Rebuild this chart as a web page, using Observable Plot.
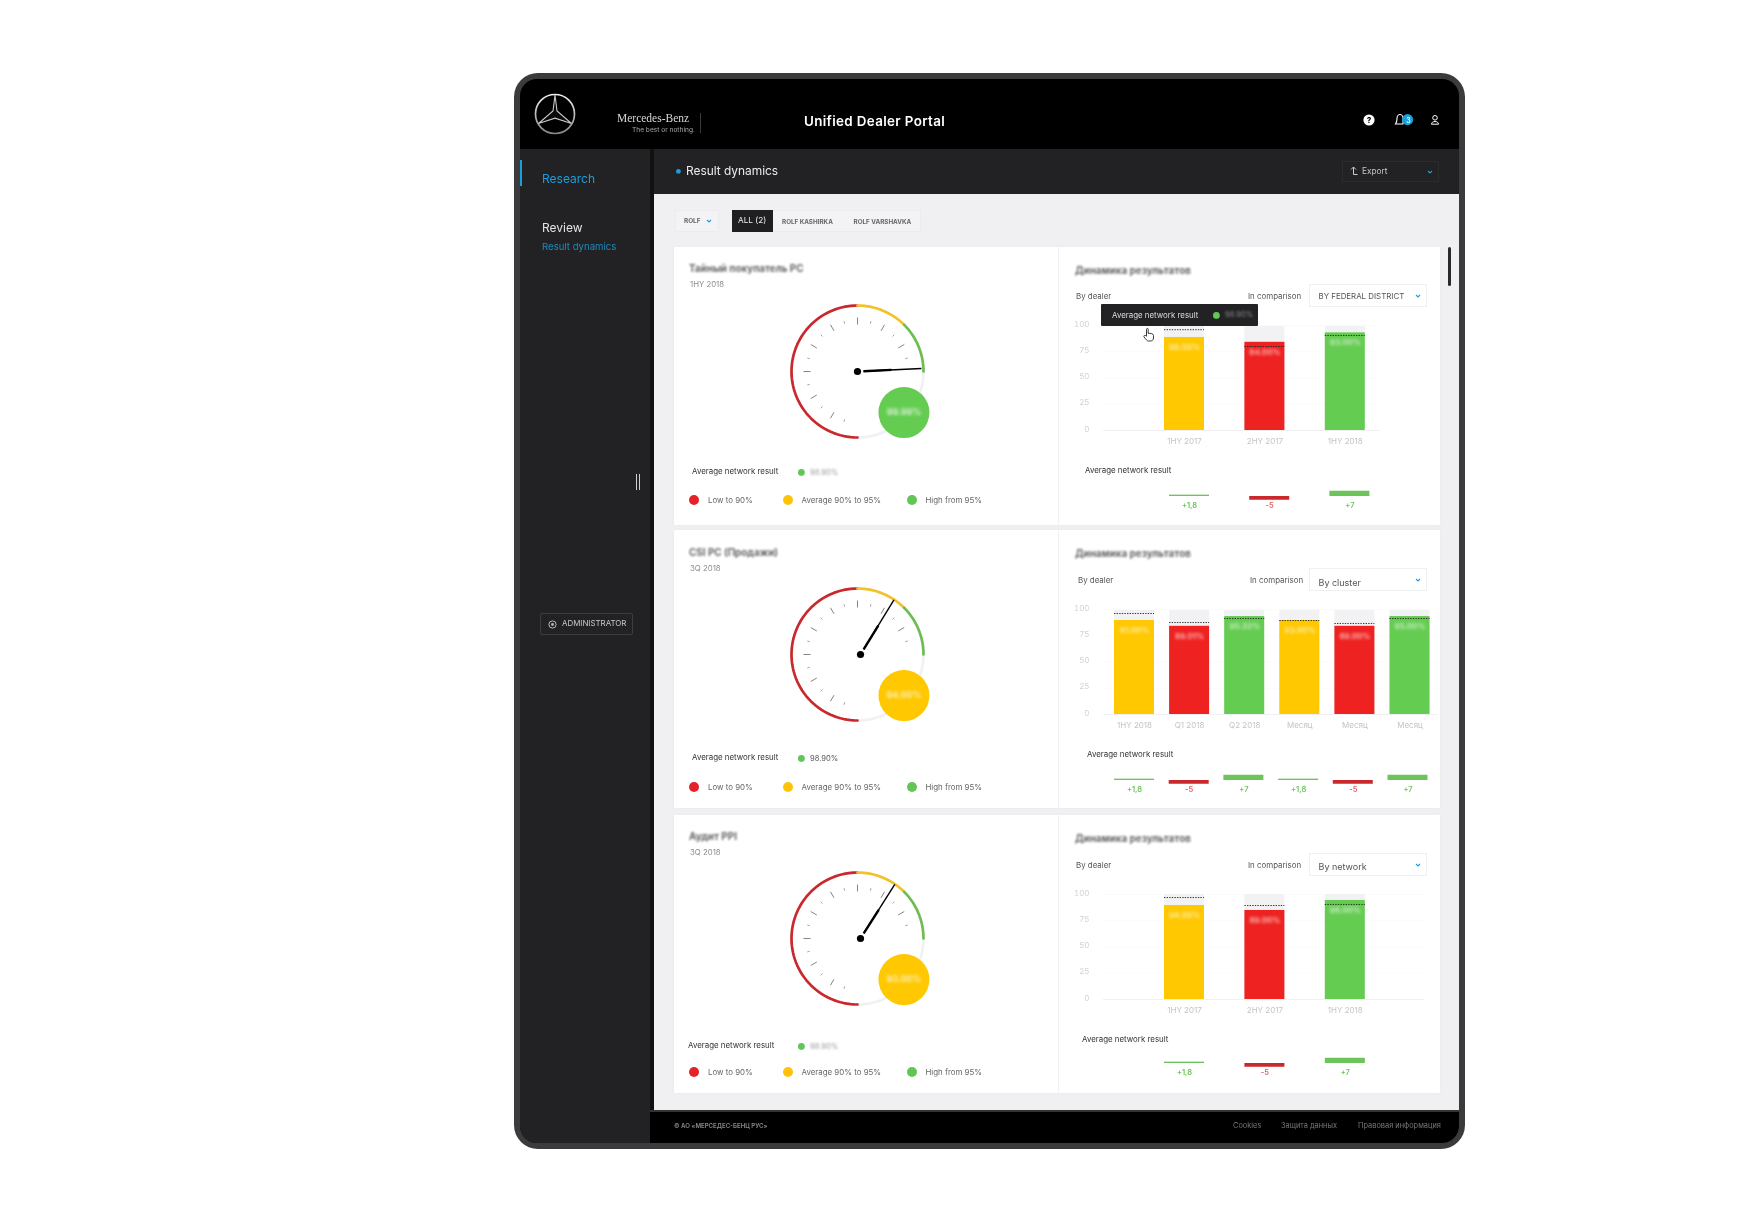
<!DOCTYPE html>
<html><head><meta charset="utf-8">
<script src="https://cdn.jsdelivr.net/npm/d3@7"></script>
<script src="https://cdn.jsdelivr.net/npm/@observablehq/plot@0.6"></script>
<style>
html,body{margin:0;padding:0;background:#fff;font-family:Inter,"Noto Sans",sans-serif}
#root{position:absolute;left:0;top:0;width:1760px;height:1216px;overflow:hidden;background:#fff;filter:blur(.4px)}
.b{position:absolute;box-sizing:border-box}
.t{position:absolute;white-space:nowrap;line-height:1;transform:translateY(-50%)}
svg.i{position:absolute;overflow:visible}
.p{position:absolute}
.p svg{overflow:visible;background:transparent}
</style></head><body><div id="root"></div>
<script>
// ---------- data ----------
const gaugeTitles = ["Тайный покупатель РС", "CSI PC (Продажи)", "Аудит PPI"];
const gaugePeriods = ["1HY 2018", "3Q 2018", "3Q 2018"];
const gaugeValues = [99.7, 93.5, 93.6];
const gaugeLabels = ["99.99%", "94.00%", "93.00%"];
const gaugeStatus = ["high", "mid", "mid"];
const networkLabels = ["98.90%", "98.90%", "98.90%"];
const zoneNames = ["low", "mid", "high"];
const zoneStops = [0, 90, 95, 100];
const dialDegrees = [-180, 0, 45, 90];
const dialTickAngles = [-165,-150,-135,-120,-105,-90,-75,-60,-45,-30,-15,0,15,30,45,60,75];
const legendLabels = ["Low to 90%", "Average 90% to 95%", "High from 95%"];

const periods1 = ["1HY 2017", "2HY 2017", "1HY 2018"];
const status1 = ["mid", "low", "high"];
const results1 = [88.6, 84, 93];
const network1 = [96, 80, 90.5];
const ceiling1 = [99, 99, 99];
const resultLabels1 = ["88.00%", "84.00%", "93.00%"];
const deltas1 = [1.8, -5, 7];
const deltaLabels1 = ["+1,8", "-5", "+7"];

const periods2 = ["1HY 2018", "Q1 2018", "Q2 2018", "Месяц", "Месяц", "Месяц"];
const status2 = ["mid", "low", "high", "mid", "low", "high"];
const results2 = [89.5, 84, 93.3, 89.5, 84, 93.3];
const network2 = [96.2, 87.6, 91.4, 89.5, 86.7, 91.4];
const ceiling2 = [99, 99, 99, 99, 99, 99];
const resultLabels2 = ["91.00%", "89.01%", "95.33%", "93.00%", "89.00%", "95.00%"];
const deltas2 = [1.8, -5, 7, 1.8, -5, 7];
const deltaLabels2 = ["+1,8", "-5", "+7", "+1,8", "-5", "+7"];

const periods3 = ["1HY 2017", "2HY 2017", "1HY 2018"];
const status3 = ["mid", "low", "high"];
const results3 = [89.5, 84.8, 94.3];
const network3 = [97.1, 89.5, 90.5];
const ceiling3 = [100, 100, 100];
const resultLabels3 = ["94.00%", "89.00%", "96.00%"];
const deltas3 = [1.8, -5, 7];
const deltaLabels3 = ["+1,8", "-5", "+7"];

// ---------- colours ----------
const C = {low:"#ee2220", mid:"#ffc800", high:"#65cc52", arcLow:"#c9282c", arcMid:"#f2c22c", arcHigh:"#6dbd52", rest:"#f1f1f3", legLow:"#e4222a", legMid:"#ffc30a", legHigh:"#63c556", blue:"#1a9fdc"};
const FONT = 'Inter,"Noto Sans",sans-serif';

// ---------- helpers for the page around the charts ----------
const root = document.getElementById("root");
function box(x1,y1,x2,y2,bg,extra=""){const d=document.createElement("div");d.className="b";d.style.cssText=`left:${x1}px;top:${y1}px;width:${x2-x1}px;height:${y2-y1}px;background:${bg};${extra}`;root.appendChild(d);return d;}
function txt(s,x,y,size,color,extra=""){const d=document.createElement("div");d.className="t";d.textContent=s;d.style.cssText=`left:${x}px;top:${y+0.9}px;font-size:${size}px;color:${color};${extra}`;root.appendChild(d);return d;}
function icon(x,y,w,h,inner){const n="http://www.w3.org/2000/svg";const s=document.createElementNS(n,"svg");s.setAttribute("class","i");s.setAttribute("width",w);s.setAttribute("height",h);s.setAttribute("viewBox",`${-w/2} ${-h/2} ${w} ${h}`);s.style.left=(x-w/2)+"px";s.style.top=(y-h/2)+"px";s.innerHTML=inner;root.appendChild(s);}
const chev=(x,y,c=C.blue)=>icon(x,y,8,6,`<polyline points="-2,-1 0,1 2,-1" fill="none" stroke="${c}" stroke-width="1.1"/>`);
const disc=(x,y,r,c)=>icon(x,y,2*r+2,2*r+2,`<circle r="${r}" fill="${c}"/>`);
const blur=(v)=>`filter:blur(${v}px);`;

// ---------- device frame ----------
box(514,73,1465,1149,"#3b3b3d","border-radius:24px");
box(520,79,1459,1143,"#000","border-radius:17px");
box(520,149,650,1143,"#222224","border-radius:0 0 0 17px");
box(650,149,654,1110,"#111");
box(654,149,1459,193.5,"#222224");
box(654,193.5,1459,1110,"#f0f0f2");
box(650,1110,1459,1112,"#333");

// header
icon(555,114,46,46,`<defs><linearGradient id="lg" x1="0" y1="0" x2="0" y2="1"><stop offset="0" stop-color="#eee"/><stop offset="1" stop-color="#888"/></linearGradient></defs>
<circle r="19.5" fill="none" stroke="url(#lg)" stroke-width="1.7"/>
<path d="M0,-19 L2,-3 L16.5,9.5 L0,4.2 L-16.5,9.5 L-2,-3Z" fill="#0a0a0a" stroke="#c8c8c8" stroke-width="1.1"/>`);
txt("Mercedes-Benz",617,118,11.5,"#d8d8d8",'font-family:"Liberation Serif",serif;');
txt("The best or nothing.",632,129,6.6,"#a8a8a8");
box(700,113,701,133,"#3a3a3a");
txt("Unified Dealer Portal",804,121.5,13.4,"#fff","font-weight:600;letter-spacing:.35px;");
icon(1369,120,14,14,`<circle r="5.6" fill="#fff"/>`);
txt("?",1366.8,119.5,8,"#000","font-weight:800;");
icon(1400,120,16,16,`<path d="M-4.5,4 C-3,2 -3,0 -3,-1.5 C-3,-4.5 -1,-5.5 0,-5.5 C1,-5.5 3,-4.5 3,-1.5 L3,4 Z" fill="none" stroke="#fff" stroke-width="1.1"/>`);
disc(1408,120,5.6,C.blue);
txt("3",1406.3,119.5,7,"#dff","font-weight:600;");
icon(1435,120,14,14,`<circle cy="-2.2" r="2.3" fill="none" stroke="#fff" stroke-width="1"/><path d="M-3.5,4.2 C-3.5,0.6 3.5,0.6 3.5,4.2 Z" fill="none" stroke="#fff" stroke-width="1"/>`);

// sub header
disc(678,171,2.4,C.blue);
txt("Result dynamics",686,170.5,11.9,"#ececec");
box(1342,161,1439,182,"transparent","border:1px solid #2b2b2d");
icon(1354,171,12,12,`<path d="M-3,-1.5 L-0.5,-4 L2,-1.5 M-0.5,-4 L-0.5,3.5 L3.5,3.5" fill="none" stroke="#ccc" stroke-width="1"/>`);
txt("Export",1362,170.5,8.3,"#c4c4c4");
chev(1430,172);

// sidebar
box(520,160,522,186,C.blue);
txt("Research",542,178,12,C.blue);
txt("Review",542,227,12,"#e4e4e4");
txt("Result dynamics",542,246,9.6,"#1a8bbd");
box(636,474,637.2,490,"#cfcfcf");box(639,474,640.2,490,"#cfcfcf");
box(540,613,633,635,"transparent","border:1px solid #3d3d3f;border-radius:2px");
icon(552,624,11,11,`<circle r="3.6" fill="none" stroke="#bbb" stroke-width="1"/><circle r="1.4" fill="#bbb"/>`);
txt("ADMINISTRATOR",562,623,7.9,"#c8c8c8");

// filters
box(675,210,719,232,"#f3f3f5","border:1px solid #ececee");
txt("ROLF",684,220,6.4,"#666","font-weight:700;");
chev(709,221);
box(772,210,921,232,"#f3f3f5","border:1px solid #ececee");
box(732,210,773,232,"#1f1f21");
txt("ALL (2)",738,219.5,8.2,"#eee");
txt("ROLF KASHIRKA",782,221,6.3,"#666","font-weight:700;");
txt("ROLF VARSHAVKA",853.5,221,6.3,"#666","font-weight:700;");

// scroll thumb
box(1448,247,1451,286,"#2a2a2c","border-radius:2px");

// footer
txt("© АО «МЕРСЕДЕС-БЕНЦ РУС»",674,1125.5,6.1,"#8a8a8a","font-weight:600;");
txt("Cookies",1233,1125.5,7.4,"#777");
txt("Защита данных",1281,1125.5,7.4,"#777");
txt("Правовая информация",1358,1125.5,7.4,"#777");

// ---------- charts ----------
const dial = d3.scaleLinear().domain(zoneStops).range(dialDegrees);
const polarX = (deg, r) => r * Math.sin(deg * Math.PI / 180);
const polarY = (deg, r) => r * Math.cos(deg * Math.PI / 180);

function place(el, x, y){const d=document.createElement("div");d.className="p";d.style.left=x+"px";d.style.top=y+"px";d.appendChild(el);root.appendChild(d);}

function gauge(i, cx, cy, pivotShift){
  const arcs = [];
  const pushArc = (zone, a, b) => { for (let d = a; d <= b; d += 3) arcs.push({zone, x: polarX(d, 66), y: polarY(d, 66)}); };
  pushArc("rest", 90, 180);
  zoneNames.forEach((z, k) => pushArc(z, dial(zoneStops[k]), dial(zoneStops[k + 1])));
  const ticks = dialTickAngles.map(a => {
    const major = a % 30 === 0;
    return {major, x1: polarX(a, major ? 47 : 49.5), y1: polarY(a, major ? 47 : 49.5), x2: polarX(a, major ? 54 : 52), y2: polarY(a, major ? 54 : 52)};
  });
  const a = dial(gaugeValues[i]);
  const needle = (from, to) => [{x1: polarX(a, from), y1: polarY(a, from), x2: polarX(a, to), y2: polarY(a, to)}];
  const bx = polarX(131.5, 62), by = polarY(131.5, 62);
  const bubbleColor = C[gaugeStatus[i]];
  const plot = Plot.plot({
    width: 200, height: 200, margin: 0,
    x: {domain: [-100, 100], axis: null},
    y: {domain: [-100, 100], axis: null},
    color: {domain: ["rest", "low", "mid", "high"], range: [C.rest, C.arcLow, C.arcMid, C.arcHigh]},
    style: {background: "transparent", fontFamily: FONT, overflow: "visible"},
    marks: [
      Plot.line(arcs, {x: "x", y: "y", z: "zone", stroke: "zone", strokeWidth: 2.7, curve: "linear"}),
      Plot.link(ticks.filter(d => d.major), {x1: "x1", y1: "y1", x2: "x2", y2: "y2", stroke: "#666", strokeWidth: 0.8}),
      Plot.link(ticks.filter(d => !d.major), {x1: "x1", y1: "y1", x2: "x2", y2: "y2", stroke: "#888", strokeWidth: 0.8}),
      Plot.link(needle(6, 64), {x1: "x1", y1: "y1", x2: "x2", y2: "y2", stroke: "#000", strokeWidth: 1.4, dx: pivotShift}),
      Plot.link(needle(6, 34), {x1: "x1", y1: "y1", x2: "x2", y2: "y2", stroke: "#000", strokeWidth: 2.4, dx: pivotShift}),
      Plot.dot([{x: 0, y: 0}], {x: "x", y: "y", r: 3.6, fill: "#000", dx: pivotShift}),
      Plot.dot([{x: bx, y: by}], {x: "x", y: "y", r: 25.5, fill: bubbleColor}),
      Plot.text([gaugeLabels[i]], {x: () => bx, y: () => by, text: d => d, fill: "#fff", fillOpacity: .8, fontSize: 9, fontWeight: 600, imageFilter: "blur(1.5px)"})
    ]
  });
  place(plot, cx - 100, cy - 100);
}

function bars(periods, status, results, network, ceiling, labels, baseY, first, step, ruleEnd){
  const left = 1060, top = baseY - 125, width = 390;
  const idx = periods.map((_, i) => i);
  const rows = idx.map(i => ({i, period: periods[i], status: status[i], result: results[i], network: network[i], ceiling: ceiling[i], label: labels[i]}));
  const p = 1 - 40 / step;
  const r0 = first - p * step - left;
  const r1 = r0 + (periods.length + p) * step;
  const plot = Plot.plot({
    width, height: 150, marginLeft: 43, marginRight: width - (ruleEnd - left), marginTop: 20, marginBottom: 25,
    x: {domain: idx, range: [r0, r1], padding: p, align: 0.5, round: false, axis: null},
    y: {domain: [0, 100], axis: null},
    color: {domain: ["low", "mid", "high"], range: [C.low, C.mid, C.high]},
    style: {background: "transparent", fontFamily: FONT, fontSize: "8px", overflow: "visible"},
    marks: [
      Plot.gridY([25, 50, 75, 100], {stroke: "#fbfbfb", strokeOpacity: 1}),
      Plot.ruleY([0], {stroke: "#f0f0f2"}),
      Plot.barY(rows, {x: "i", y: "ceiling", fill: "#f2f2f4"}),
      Plot.barY(rows, {x: "i", y: "result", fill: "status"}),
      Plot.tickY(rows, {x: "i", y: "network", stroke: "#222", strokeWidth: 0.9, strokeDasharray: "1.4,1.2"}),
      Plot.text(rows, {x: "i", y: "result", dy: 10, text: "label", fill: "#fff", fillOpacity: .7, fontSize: 8, fontWeight: 600, imageFilter: "blur(1.4px)"}),
      Plot.axisY({ticks: [0, 25, 50, 75, 100], tickSize: 0, tickPadding: 14, dy: -1.5, color: "#d2d2d4", fontSize: 8, label: null, imageFilter: "blur(.7px)"}),
      Plot.axisX({tickSize: 0, tickPadding: 8, color: "#c4c4c6", fontSize: 8, label: null, tickFormat: i => periods[i], imageFilter: "blur(.7px)"})
    ]
  });
  place(plot, left, top);
}

function deltaBars(deltas, labels, baseY, first, step){
  const left = 1060, top = baseY - 20, width = 390;
  const idx = deltas.map((_, i) => i);
  const rows = idx.map(i => ({i, v: deltas[i], label: labels[i], dir: deltas[i] < 0 ? "down" : "up"}));
  const p = 1 - 40 / step;
  const r0 = first - p * step - left;
  const r1 = r0 + (deltas.length + p) * step;
  const plot = Plot.plot({
    width, height: 40, margin: 0,
    x: {domain: idx, range: [r0, r1], padding: p, align: 0.5, round: false, axis: null},
    y: {domain: [-8, 8], range: [26, 14], axis: null},
    color: {domain: ["down", "up"], range: ["#c9282c", "#6dc45a"]},
    style: {background: "transparent", fontFamily: FONT, overflow: "visible"},
    marks: [
      Plot.barY(rows, {x: "i", y1: 0, y2: "v", fill: "dir"}),
      Plot.text(rows, {x: "i", y: () => 0, dy: 9.5, text: "label", fontSize: 7.5, fontWeight: 600, fill: d => d.dir === "down" ? "#e2595c" : "#6dc45a"})
    ]
  });
  place(plot, left, top);
}

// ---------- cards ----------
const L = {low: C.legLow, mid: C.legMid, high: C.legHigh};
function card(i, y1, y2, o){
  box(674, y1, 1440, y2, "#fff", "box-shadow:0 0 4px rgba(0,0,0,.03)");
  box(1058, y1, 1059, y2, "#f1f1f3");
  txt(gaugeTitles[i], 689, o.title, 9.9, "#666", "font-weight:700;" + blur(1.3));
  txt(gaugePeriods[i], 690, o.title + 16, 7.8, "#8c8c8c");
  txt("Average network result", o.avgX, o.avgY, 7.9, "#333");
  disc(801, o.avgY + 1, 3.4, C.legHigh);
  txt(networkLabels[i], 810, o.avgY + 1, 7.6, i === 1 ? "#555" : "#999", i === 1 ? "" : blur(1.3));
  [[694.4, "low", 708], [787.7, "mid", 801.5], [912, "high", 925.5]].forEach(([x, k, tx], j) => {
    disc(x, o.leg, 5, L[k]);
    txt(legendLabels[j], tx, o.leg, 7.9, "#666");
  });
  txt("Динамика результатов", 1075, o.title2, 9.9, "#666", "font-weight:700;" + blur(1.3));
  txt("By dealer", o.byX, o.by, 7.9, "#555");
  txt("In comparison", o.byX + 172, o.by, 7.9, "#555");
  box(1309, o.by - 12, 1427, o.by + 11, "#fff", "border:1px solid #f0f0f2");
  txt(o.sel, 1318.5, o.by + o.selDy, o.selSize, "#555");
  chev(1418, o.by - 0.5);
  txt("Average network result", o.avg2X, o.avg2Y, 7.9, "#333");
}

card(0, 247, 525, {title:268, title2:270, avgX:692, avgY:471, leg:500, byX:1076, by:296, sel:"BY FEDERAL DISTRICT", selDy:0, selSize:7.9, avg2X:1085, avg2Y:470});
card(1, 530, 808, {title:552, title2:553, avgX:692, avgY:757, leg:787, byX:1078, by:580, sel:"By cluster", selDy:1, selSize:9, avg2X:1087, avg2Y:754});
card(2, 815, 1093, {title:836, title2:838, avgX:688, avgY:1045, leg:1072, byX:1076, by:865, sel:"By network", selDy:0, selSize:9, avg2X:1082, avg2Y:1039});

gauge(0, 857, 371, 0);
gauge(1, 857, 654, 3);
gauge(2, 857, 938, 3);

bars(periods1, status1, results1, network1, ceiling1, resultLabels1, 430, 1164, 80.4, 1380);
bars(periods2, status2, results2, network2, ceiling2, resultLabels2, 714, 1114, 55.1, 1438);
bars(periods3, status3, results3, network3, ceiling3, resultLabels3, 999, 1164, 80.4, 1424);
deltaBars(deltas1, deltaLabels1, 495.5, 1169, 80.2);
deltaBars(deltas2, deltaLabels2, 779.5, 1114, 54.7);
deltaBars(deltas3, deltaLabels3, 1063, 1164, 80.4);

// tooltip and pointer above the first bar chart
box(1101, 304, 1258, 326, "#222224", "border-radius:1px");
txt("Average network result", 1112, 315.5, 7.9, "#ddd");
disc(1216, 315, 3.4, C.legHigh);
txt(networkLabels[0], 1225, 314.5, 7.6, "#888", blur(1.3));
icon(1149, 335, 16, 16, `<path d="M-2.5,-1 L-2.5,-5.5 C-2.5,-7 -0.8,-7 -0.8,-5.5 L-0.8,-1.5 C1,-2 4.5,-1.5 4.5,0.5 L4.5,3 C4.5,5 3,6 1.5,6 L-0.5,6 C-2,6 -3,4.5 -5,1.8 C-5.8,0.6 -4,-0.4 -2.5,1.2 Z" fill="#fff" stroke="#222" stroke-width="0.9"/>`);
</script></body></html>
